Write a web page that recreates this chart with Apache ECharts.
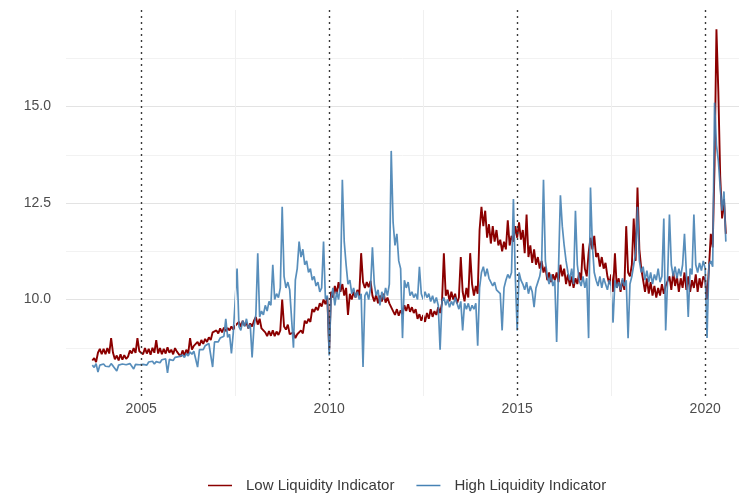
<!DOCTYPE html>
<html>
<head>
<meta charset="utf-8">
<title>Liquidity Indicators</title>
<script src="https://cdn.jsdelivr.net/npm/echarts@6/dist/echarts.min.js"></script>
<style>
  html, body { margin: 0; padding: 0; background: #ffffff; }
  #chart { width: 743px; height: 495px; }
</style>
</head>
<body>
<div id="chart"></div>
<script>
// Sampling grid: one observation every 0.05 year, starting at 2003.70
const startYear = 2003.70;
const stepYears = 0.05;

// Low liquidity indicator, by period
const lowEarly = [
  8.42, 8.48, 8.38, 8.62, 8.72, 8.58,
  8.72, 8.58, 8.74, 8.60, 9.00, 8.62, 8.45, 8.55, 8.42, 8.58, 8.44, 8.56, 8.46, 8.52, 8.68, 8.60, 8.74, 8.62, 9.00, 8.66,
  8.70, 8.58, 8.74, 8.60, 8.72, 8.57, 8.75, 8.62, 8.95, 8.60, 8.74, 8.58, 8.72, 8.60, 8.76, 8.62, 8.70, 8.58, 8.74, 8.65,
  8.62, 8.52, 8.68, 8.55, 8.70, 8.60, 9.00, 8.70, 8.80, 8.76, 8.90, 8.80, 8.95, 8.85, 8.98, 8.90, 9.02, 8.95, 9.15, 9.10,
  9.20, 9.12, 9.25, 9.15, 9.27, 9.18, 9.26, 9.20, 9.30, 9.22, 9.32, 9.30, 9.42, 9.30, 9.45, 9.32, 9.40, 9.25, 9.38, 9.30
];
const lowMid = [
  9.45, 9.55, 9.35, 9.50, 9.25, 9.30, 9.15, 9.05, 9.18, 9.06, 9.20, 9.05, 9.17, 9.08, 9.20, 10.00, 9.30, 9.22, 9.35, 9.10,
  9.05, 9.15, 9.00, 9.10, 9.15, 9.20, 9.12, 9.45, 9.38, 9.50, 9.42, 9.75, 9.68, 9.80, 9.72, 9.90, 9.82, 10.00, 9.88, 10.05,
  8.70, 10.20, 10.05, 10.35, 10.15, 10.45, 10.20, 10.40, 10.10, 10.30, 9.60, 10.15, 10.00, 10.20, 10.05, 10.25, 10.10, 11.20, 10.45, 10.30,
  10.45, 10.32, 10.48, 10.10, 9.95, 10.12, 9.90, 10.10, 9.95, 10.15, 9.92, 10.05, 9.90, 9.95, 9.70, 9.60, 9.75, 9.58, 9.72, 9.62
];
const lowLate = [
  9.85, 9.70, 9.88, 9.68, 9.80, 9.65, 9.75, 9.50, 9.62, 9.45, 9.60, 9.42, 9.65, 9.50, 9.75, 9.55, 9.70, 9.60, 9.80, 9.65,
  9.90, 11.20, 10.10, 10.25, 9.95, 10.20, 10.00, 10.15, 9.90, 10.05, 11.10, 10.20, 9.95, 10.30, 10.05, 11.20, 10.40, 10.10, 10.35, 10.15,
  11.80, 12.40, 11.90, 12.30, 11.60, 11.95, 11.45, 11.90, 11.50, 11.80, 11.40, 11.55, 11.25, 11.50, 11.30, 12.05, 11.40, 11.65, 11.50, 11.90,
  11.60, 12.00, 11.55, 11.80, 11.20, 12.20, 11.10, 11.40, 10.95, 11.30, 10.90, 11.10, 10.80, 11.00, 10.70, 10.85, 10.50, 10.70, 10.45, 10.65
];
const lowRecent = [
  10.50, 10.70, 10.45, 10.90, 10.60, 10.80, 10.40, 10.65, 10.35, 10.60, 10.30, 10.55, 10.40, 10.70, 10.50, 11.45, 10.80, 10.60, 11.20, 11.60,
  11.30, 11.65, 11.10, 11.20, 10.85, 11.10, 10.80, 10.95, 10.60, 10.40, 10.65, 10.20, 11.20, 10.30, 10.55, 10.20, 10.50, 10.25, 11.90, 10.70,
  10.60, 10.90, 12.10, 11.00, 12.90, 11.30, 10.80, 10.50, 10.20, 10.55, 10.15, 10.45, 10.10, 10.35, 10.05, 10.30, 10.10, 10.40, 10.15, 10.35,
  10.30, 10.60, 10.25, 10.70, 10.35, 10.60, 10.20, 10.55, 10.30, 10.70, 10.25, 10.60, 10.20, 10.50, 10.30, 10.65, 10.20, 10.55, 10.30, 10.60,
  10.50, 10.00, 10.80, 11.70, 11.35, 13.50, 17.00, 15.40, 13.20, 12.10, 12.60, 11.70
];

// High liquidity indicator, by period
const highEarly = [
  8.30, 8.24, 8.34, 8.12, 8.30, 8.27,
  8.33, 8.27, 8.31, 8.26, 8.34, 8.28, 8.32, 8.15, 8.30, 8.27, 8.33, 8.29, 8.31, 8.26, 8.34, 8.30, 8.20, 8.32, 8.36, 8.31,
  8.35, 8.32, 8.37, 8.30, 8.38, 8.34, 8.40, 8.33, 8.39, 8.42, 8.36, 8.44, 8.40, 8.46, 8.10, 8.45, 8.48, 8.42, 8.50, 8.47,
  8.52, 8.48, 8.56, 8.50, 8.60, 8.54, 8.64, 8.58, 8.66, 8.62, 8.25, 8.70, 8.74, 8.70, 8.80, 8.76, 8.86, 8.82, 8.25, 8.90,
  8.95, 8.90, 9.00, 8.95, 9.05, 9.50, 9.02, 9.10, 8.60, 9.15, 9.10, 10.80, 9.30, 9.20, 9.45, 9.30, 9.50, 9.25, 9.35, 8.50
];
const highMid = [
  9.30, 9.60, 11.20, 9.55, 9.70, 9.60, 9.85, 9.70, 9.95, 9.85, 10.90, 10.00, 10.15, 10.05, 10.30, 12.40, 10.60, 10.30, 10.45, 10.25,
  10.30, 8.75, 10.50, 10.80, 11.50, 11.10, 11.30, 10.90, 11.00, 10.70, 10.80, 10.50, 10.60, 10.35, 10.45, 10.20, 10.30, 11.50, 10.00, 10.10,
  8.55, 10.00, 10.30, 9.85, 10.20, 10.00, 10.40, 13.10, 11.50, 10.90, 10.40, 10.50, 10.15, 10.30, 10.05, 10.20, 10.00, 10.15, 8.25, 10.10,
  10.20, 10.00, 10.30, 11.35, 10.40, 10.10, 10.25, 9.85, 10.20, 10.00, 10.30, 10.10, 10.40, 13.85, 12.00, 11.40, 11.70, 11.00, 10.80, 9.00
];
const highLate = [
  10.50, 10.30, 10.45, 10.10, 10.20, 10.05, 10.15, 10.00, 10.85, 10.15, 10.00, 10.20, 10.05, 10.15, 9.95, 10.10, 9.90, 10.05, 9.85, 8.70,
  9.95, 10.05, 9.85, 10.00, 9.80, 9.95, 9.85, 10.05, 9.90, 9.75, 9.95, 9.20, 9.90, 9.75, 9.90, 9.70, 9.85, 9.75, 9.90, 8.80,
  10.30, 10.70, 10.85, 10.60, 10.80, 10.55, 10.60, 10.35, 10.45, 10.25, 10.30, 10.15, 9.20, 10.30, 10.50, 10.65, 10.55, 10.70, 12.60, 10.60,
  9.20, 10.70, 10.50, 10.40, 10.25, 10.45, 10.15, 10.35, 10.20, 9.80, 10.30, 10.45, 10.60, 10.90, 13.10, 11.00, 10.60, 10.40, 10.65, 10.35
];
const highRecent = [
  10.50, 8.90, 10.80, 12.70, 11.90, 11.40, 11.00, 10.70, 10.50, 10.80, 10.40, 12.30, 10.90, 10.50, 10.35, 10.60, 10.30, 10.55, 9.00, 12.90,
  11.40, 10.70, 10.50, 10.35, 10.60, 10.30, 10.55, 10.40, 10.25, 10.50, 10.35, 9.40, 10.50, 10.30, 10.45, 10.25, 10.55, 10.35, 10.50, 9.00,
  10.40, 10.60, 10.90, 11.20, 12.40, 11.00, 10.70, 10.85, 10.50, 10.75, 10.45, 10.70, 10.40, 10.65, 10.50, 10.80, 10.45, 10.60, 12.10, 9.20,
  10.50, 12.20, 10.90, 10.60, 10.85, 10.55, 10.80, 10.60, 10.90, 11.70, 10.70, 9.55, 10.80, 10.65, 12.20, 10.90, 10.70, 10.95, 10.75, 11.00,
  10.80, 9.00, 10.90, 11.00, 10.85, 15.10, 14.00, 13.60, 12.90, 12.30, 12.80, 11.50
];

// Axis ticks and reference years
const yLabelValues = [10, 12.5, 15];
const xLabelYears = [2005, 2010, 2015, 2020];
const minorYears = [2007.5, 2012.5, 2017.5];
const seriesNames = ['Low Liquidity Indicator', 'High Liquidity Indicator'];

function toPoints(values) {
  return values.map((v, i) => [startYear + i * stepYears, v]);
}

const lowPoints = toPoints([].concat(lowEarly, lowMid, lowLate, lowRecent));
const highPoints = toPoints([].concat(highEarly, highMid, highLate, highRecent));

const textFont = '"Liberation Sans", Arial, Helvetica, sans-serif';

const chart = echarts.init(document.getElementById('chart'), null, { renderer: 'canvas' });

chart.setOption({
  animation: false,
  backgroundColor: '#ffffff',
  grid: { left: 66, right: 4, top: 10, bottom: 99, containLabel: false },
  legend: {
    data: seriesNames,
    left: 208,
    top: 478,
    padding: 0,
    itemGap: 22,
    icon: 'rect',
    itemWidth: 24,
    itemHeight: 1.5,
    textStyle: {
      fontFamily: textFont,
      fontSize: 15,
      color: '#3a3a3a',
      padding: [0, 0, 0, 9]
    }
  },
  xAxis: {
    type: 'value',
    min: 2003,
    max: 2020.9,
    interval: 1,
    axisLine: { show: false },
    axisTick: { show: false },
    splitLine: { show: false },
    axisLabel: {
      margin: 6,
      fontFamily: textFont,
      fontSize: 14,
      color: '#4d4d4d',
      formatter: v => (xLabelYears.indexOf(Math.round(v)) >= 0 && Math.abs(v - Math.round(v)) < 1e-6) ? String(Math.round(v)) : ''
    }
  },
  yAxis: {
    type: 'value',
    min: 7.5,
    max: 17.5,
    interval: 2.5,
    axisLine: { show: false },
    axisTick: { show: false },
    axisLabel: {
      margin: 15,
      fontFamily: textFont,
      fontSize: 14,
      color: '#4d4d4d',
      formatter: v => yLabelValues.some(t => Math.abs(t - v) < 1e-6) ? v.toFixed(1) : ''
    },
    splitLine: {
      show: true,
      showMinLine: false,
      showMaxLine: false,
      lineStyle: { color: '#e3e3e3', width: 1.2 }
    },
    minorTick: { show: false, splitNumber: 2 },
    minorSplitLine: { show: true, lineStyle: { color: '#f2f2f2', width: 1 } }
  },
  series: [
    {
      // background vertical grid lines
      name: 'grid',
      type: 'line',
      data: [],
      silent: true,
      z: 1,
      markLine: {
        silent: true,
        symbol: 'none',
        label: { show: false },
        lineStyle: { color: '#f0f0f0', width: 1, type: 'solid' },
        data: minorYears.map(y => ({ xAxis: y }))
      }
    },
    {
      name: seriesNames[0],
      type: 'line',
      data: lowPoints,
      symbol: 'none',
      showSymbol: false,
      z: 2,
      itemStyle: { color: '#8b0000' },
      lineStyle: { color: '#8b0000', width: 1.9 }
    },
    {
      name: seriesNames[1],
      type: 'line',
      data: highPoints,
      symbol: 'none',
      showSymbol: false,
      z: 3,
      itemStyle: { color: '#4682b4' },
      lineStyle: { color: '#4682b4', width: 1.7, opacity: 0.9 },
      markLine: {
        silent: true,
        symbol: 'none',
        label: { show: false },
        lineStyle: { color: '#3a3a3a', width: 1.4, type: [2, 4] },
        data: xLabelYears.map(y => ({ xAxis: y }))
      }
    }
  ]
});
</script>
</body>
</html>
